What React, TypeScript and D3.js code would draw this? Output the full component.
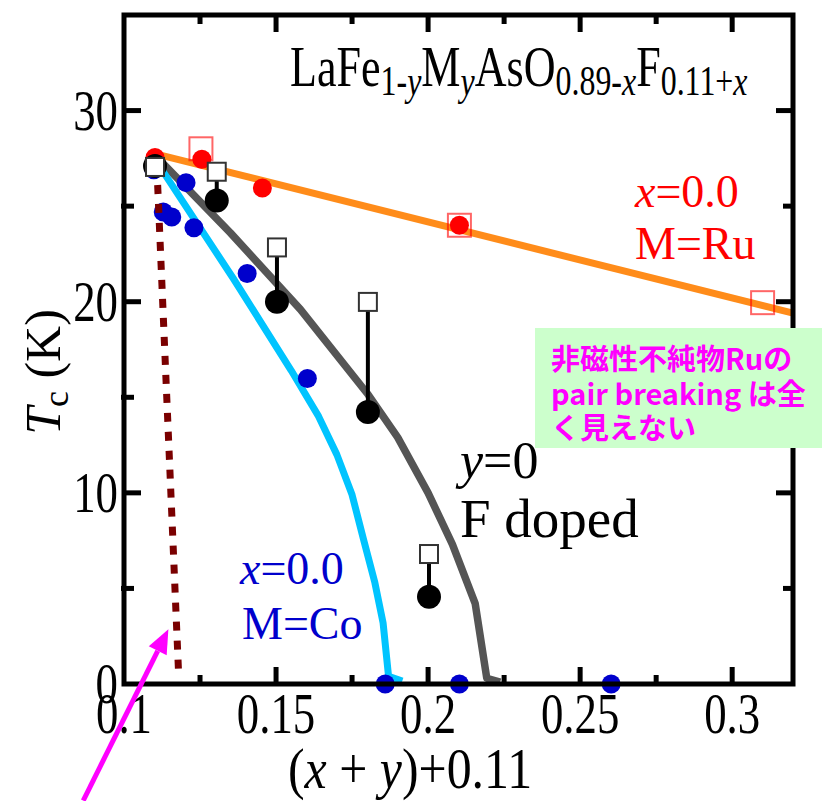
import React from 'react';
import * as d3 from 'd3';

const W = 824;
const H = 801;

// axis ticks
const xMajor = [0.1, 0.15, 0.2, 0.25, 0.3];
const xMajorLabels = ['0.1', '0.15', '0.2', '0.25', '0.3'];
const xMinor = [0.125, 0.175, 0.225, 0.275];
const yMajor = [0, 10, 20, 30];
const yMajorLabels = ['0', '10', '20', '30'];
const yMinor = [5, 15, 25];

// M=Ru, x=0.0
const ruX = [0.1102, 0.1256, 0.1455, 0.2103];
const ruTc = [27.55, 27.45, 25.95, 24.0];
const ruSqX = [0.1253, 0.2103, 0.31];
const ruSqTc = [28.0, 24.0, 19.95];
const ruFitX = [0.11, 0.32];
const ruFitTc = [27.75, 19.4];

// F doped, y=0
const fX = [0.1102, 0.1305, 0.1503, 0.1802, 0.2003];
const fTc = [27.1, 25.3, 20.0, 14.23, 4.56];
const fSqTc = [27.05, 26.8, 22.84, 19.99, 6.8];
const fFitX = [0.11, 0.135, 0.158, 0.18, 0.19, 0.2, 0.208, 0.2155, 0.2193, 0.2237];
const fFitTc = [27.7, 23.6, 19.6, 15.2, 12.9, 10.0, 7.3, 4.2, 0.3, 0.1];

// M=Co, x=0.0
const coX = [0.1098, 0.1129, 0.1157, 0.1204, 0.123, 0.1405, 0.1603, 0.1859, 0.2103, 0.2602];
const coTc = [26.9, 24.69, 24.43, 26.23, 23.87, 21.48, 15.98, 0, 0, 0];
const coFitX = [0.11, 0.136, 0.155, 0.164, 0.17, 0.175, 0.1787, 0.1825, 0.1852, 0.187, 0.1915];
const coFitTc = [27.5, 21.2, 16.4, 14.0, 12.0, 9.9, 7.6, 5.3, 3.2, 0.4, 0.15];

// pair breaking guide (dotted)
const pbX = [0.1108, 0.118];
const pbTc = [27.1, 0.4];

// arrow annotation (data coords)
const arrowTail = [0.0866, -6.1];
const arrowTip = [0.1146, 2.86];

const noteLines = ['非磁性不純物Ruの', 'pair breaking は全', 'く見えない'];

const serif = '"Liberation Serif", "Times New Roman", serif';

export default function App() {
  const x = d3.scaleLinear().domain([0.1, 0.32]).range([124, 793]);
  const y = d3.scaleLinear().domain([0, 35]).range([684, 15]);
  const line = d3.line<[number, number]>().x(d => x(d[0])).y(d => y(d[1]));

  const pairs = (xs: number[], ys: number[]) => xs.map((v, i) => [v, ys[i]] as [number, number]);

  const x0 = x.range()[0], x1 = x.range()[1];
  const y0 = y.range()[0], y1 = y.range()[1];

  // arrow geometry
  const tx = x(arrowTip[0]), ty = y(arrowTip[1]);
  const sx = x(arrowTail[0]), sy = y(arrowTail[1]);
  const ang = Math.atan2(ty - sy, tx - sx);
  const hl = 24, hw = 10;
  const bx = tx - hl * Math.cos(ang), by = ty - hl * Math.sin(ang);
  const head = [
    [tx, ty],
    [bx + hw * Math.sin(ang), by - hw * Math.cos(ang)],
    [bx - hw * Math.sin(ang), by + hw * Math.cos(ang)],
  ].map(p => p.join(',')).join(' ');

  return (
    <svg width={W} height={H} style={{ position: 'absolute', left: 0, top: 0, background: '#fff' }}>
      {/* fit lines */}
      <path d={line(pairs(ruFitX, ruFitTc)) || ''} fill="none" stroke="#ff8c1a" strokeWidth={7} />
      <path d={line(pairs(fFitX, fFitTc)) || ''} fill="none" stroke="#555555" strokeWidth={7.5} strokeLinejoin="round" />
      <path d={line(pairs(coFitX, coFitTc)) || ''} fill="none" stroke="#00c4ff" strokeWidth={7} strokeLinejoin="round" />

      {/* Ru */}
      {ruSqX.map((v, i) => (
        <rect key={'rs' + i} x={x(v) - 11.5} y={y(ruSqTc[i]) - 11.5} width={23} height={23}
          fill="none" stroke="rgba(255,0,0,0.6)" strokeWidth={2} />
      ))}
      {ruX.map((v, i) => (
        <circle key={'rc' + i} cx={x(v)} cy={y(ruTc[i])} r={9.5} fill="#ff0000" />
      ))}

      {/* Co */}
      {coX.map((v, i) => (
        <circle key={'cc' + i} cx={x(v)} cy={y(coTc[i])} r={9.5} fill="#0000cc" />
      ))}

      {/* dotted guide */}
      <path d={line(pairs(pbX, pbTc)) || ''} fill="none" stroke="#7a0000" strokeWidth={7} strokeDasharray="9 10" />

      {/* F doped */}
      {fX.map((v, i) => (
        <line key={'fl' + i} x1={x(v)} x2={x(v)} y1={y(fSqTc[i])} y2={y(fTc[i])} stroke="#000" strokeWidth={4} />
      ))}
      {fX.map((v, i) => (
        <circle key={'fc' + i} cx={x(v)} cy={y(fTc[i])} r={12} fill="#000" />
      ))}
      {fX.map((v, i) => (
        <rect key={'fs' + i} x={x(v) - 9} y={y(fSqTc[i]) - 9} width={18} height={18}
          fill="#fff" stroke="#333" strokeWidth={2} />
      ))}

      {/* frame */}
      <rect x={x0} y={y1} width={x1 - x0} height={y0 - y1} fill="none" stroke="#000" strokeWidth={5} />
      {xMajor.slice(1).map(v => (
        <g key={'xM' + v}>
          <line x1={x(v)} x2={x(v)} y1={y0} y2={y0 - 17} stroke="#000" strokeWidth={5} />
          <line x1={x(v)} x2={x(v)} y1={y1} y2={y1 + 17} stroke="#000" strokeWidth={5} />
        </g>
      ))}
      {xMinor.map(v => (
        <g key={'xm' + v}>
          <line x1={x(v)} x2={x(v)} y1={y0} y2={y0 - 9} stroke="#000" strokeWidth={5} />
          <line x1={x(v)} x2={x(v)} y1={y1} y2={y1 + 9} stroke="#000" strokeWidth={5} />
        </g>
      ))}
      {yMajor.slice(1).map(v => (
        <g key={'yM' + v}>
          <line x1={x0} x2={x0 + 17} y1={y(v)} y2={y(v)} stroke="#000" strokeWidth={5} />
          <line x1={x1} x2={x1 - 17} y1={y(v)} y2={y(v)} stroke="#000" strokeWidth={5} />
        </g>
      ))}
      {yMinor.map(v => (
        <g key={'ym' + v}>
          <line x1={x0 - 3} x2={x0 + 10} y1={y(v)} y2={y(v)} stroke="#000" strokeWidth={5} />
          <line x1={x1} x2={x1 - 10} y1={y(v)} y2={y(v)} stroke="#000" strokeWidth={5} />
        </g>
      ))}

      {/* tick labels */}
      {xMajor.map((v, i) => (
        <text key={'xl' + v} transform={`translate(${x(v)},733) scale(0.8,1)`} textAnchor="middle"
          fontFamily={serif} fontSize={56}>{xMajorLabels[i]}</text>
      ))}
      {yMajor.map((v, i) => (
        <text key={'yl' + v} transform={`translate(118,${y(v) + 19}) scale(0.8,1)`} textAnchor="end"
          fontFamily={serif} fontSize={56}>{yMajorLabels[i]}</text>
      ))}

      {/* axis titles */}
      <text transform="translate(410,788) scale(0.86,1)" textAnchor="middle" fontFamily={serif} fontSize={58}>
        (<tspan fontStyle="italic">x</tspan> + <tspan fontStyle="italic">y</tspan>)+0.11
      </text>
      <text transform="translate(60,372) rotate(-90)" textAnchor="middle" fontFamily={serif} fontSize={50}>
        <tspan fontStyle="italic">T</tspan>
        <tspan fontSize={36} dy={8}>c</tspan>
        <tspan dy={-8}> (K)</tspan>
      </text>

      {/* formula */}
      <text transform="translate(290,86) scale(0.76,1)" fontFamily={serif} fontSize={58}>
        LaFe<tspan fontSize={42} dy={9}>1-</tspan><tspan fontSize={42} fontStyle="italic">y</tspan>
        <tspan dy={-9}>M</tspan><tspan fontSize={42} dy={9} fontStyle="italic">y</tspan>
        <tspan dy={-9}>AsO</tspan><tspan fontSize={42} dy={9}>0.89-</tspan><tspan fontSize={42} fontStyle="italic">x</tspan>
        <tspan dy={-9}>F</tspan><tspan fontSize={42} dy={9}>0.11+</tspan><tspan fontSize={42} fontStyle="italic">x</tspan>
      </text>

      {/* series labels */}
      <text x={635} y={207} fontFamily={serif} fontSize={46} fill="#ff0000">
        <tspan fontStyle="italic">x</tspan>=0.0
      </text>
      <text x={635} y={259} fontFamily={serif} fontSize={46} fill="#ff0000">M=Ru</text>
      <text x={240} y={584} fontFamily={serif} fontSize={46} fill="#0000cc">
        <tspan fontStyle="italic">x</tspan>=0.0
      </text>
      <text x={242} y={639} fontFamily={serif} fontSize={46} fill="#0000cc">M=Co</text>
      <text x={460} y={478} fontFamily={serif} fontSize={52} fill="#000">
        <tspan fontStyle="italic">y</tspan>=0
      </text>
      <text x={460} y={537} fontFamily={serif} fontSize={55} fill="#000">F doped</text>

      {/* note box */}
      <rect x={535} y={328} width={287} height={120} fill="#ccffcc" />
      <text fontFamily='"Noto Sans CJK JP", "Noto Sans", sans-serif' fontWeight="bold" fontSize={29} fill="#ff00ff">
        {noteLines.map((t, i) => (
          <tspan key={t} x={551} y={370 + i * 34.5}>{t}</tspan>
        ))}
      </text>

      {/* arrow */}
      <line x1={sx} y1={sy} x2={bx} y2={by} stroke="#ff00ff" strokeWidth={5} />
      <polygon points={head} fill="#ff00ff" />
    </svg>
  );
}
